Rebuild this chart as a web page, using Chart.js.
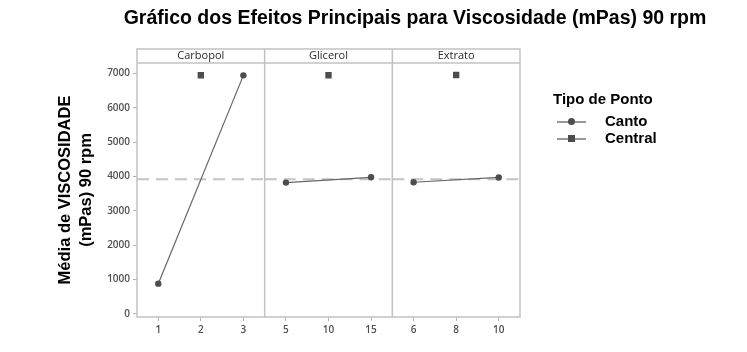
<!DOCTYPE html>
<html>
<head>
<meta charset="utf-8">
<script src="https://cdn.jsdelivr.net/npm/chart.js@4.4.1/dist/chart.umd.min.js"></script>
<style>
  body { margin: 0; background: #fff; }
  #wrap { position: relative; width: 747px; height: 352px; }
  #grafico { position: absolute; left: 0; top: 0; }
  .titulo {
    position: absolute; left: 415px; top: 7px; transform: translateX(-50%);
    white-space: nowrap; font: bold 19.5px "Liberation Sans", Arial, sans-serif; line-height: 20px; color: #000;
  }
  .leg { position: absolute; font: bold 15px "Liberation Sans", Arial, sans-serif; color: #000; white-space: nowrap; line-height: 18px; }
  .linha { position: absolute; width: 29px; height: 0; border-top: 2px solid #9a9a9a; }
  .marca { position: absolute; background: #4d4d4d; }
</style>
</head>
<body>
<div id="wrap">
  <canvas id="grafico" width="747" height="352"></canvas>
  <div class="titulo">Gráfico dos Efeitos Principais para Viscosidade (mPas) 90 rpm</div>
  <div class="leg" style="left:553px; top:90px;">Tipo de Ponto</div>
  <div class="linha" style="left:557px; top:121px;"></div>
  <div class="marca" style="left:568px; top:118px; width:7px; height:7px; border-radius:50%;"></div>
  <div class="leg" style="left:605px; top:112px;">Canto</div>
  <div class="linha" style="left:557px; top:138px;"></div>
  <div class="marca" style="left:568px; top:135px; width:7px; height:7px;"></div>
  <div class="leg" style="left:605px; top:129px;">Central</div>
</div>
<script>
// fatores e níveis
const paineis = ['Carbopol', 'Glicerol', 'Extrato'];
const xTicks = [[1, 2, 3], [5, 10, 15], [6, 8, 10]];
const xMin = [0.5, 2.5, 5];
const xMax = [3.5, 17.5, 11];

// médias dos pontos de canto
const cantoX = [[1, 3], [5, 15], [6, 10]];
const cantoY = [[880, 6940], [3820, 3975], [3830, 3970]];

// ponto central
const centralX = [2, 10, 8];
const centralY = [6945, 6945, 6950];

const mediaGeral = 3915;
const yTicks = [0, 1000, 2000, 3000, 4000, 5000, 6000, 7000];

const fonteTick = { family: 'Open Sans', size: 10, weight: '600' };

const datasets = [];
const scales = {};

paineis.forEach((nome, i) => {
    const id = 'x' + i;
    datasets.push({
        label: 'Canto',
        xAxisID: id,
        data: cantoX[i].map((x, j) => ({ x: x, y: cantoY[i][j] })),
        borderColor: '#666',
        borderWidth: 1.2,
        pointRadius: 3.2,
        pointBackgroundColor: '#4d4d4d',
        pointBorderWidth: 0,
        order: 0
    });
    datasets.push({
        label: 'Central',
        xAxisID: id,
        data: [{ x: centralX[i], y: centralY[i] }],
        showLine: false,
        pointStyle: 'rect',
        pointRadius: 4.5,
        pointBackgroundColor: '#4d4d4d',
        pointBorderWidth: 0,
        order: 0
    });
    datasets.push({
        label: 'Média',
        xAxisID: id,
        data: [{ x: xMin[i], y: mediaGeral }, { x: xMax[i], y: mediaGeral }],
        borderColor: '#c4c4c4',
        borderWidth: 2,
        borderDash: [12, 7],
        pointRadius: 0,
        order: 2
    });
    scales[id] = {
        type: 'linear',
        position: 'bottom',
        stack: 'paineis',
        stackWeight: 1,
        min: xMin[i],
        max: xMax[i],
        afterBuildTicks: s => { s.ticks = xTicks[i].map(v => ({ value: v })) },
        afterFit: s => { s.height = 20 },
        grid: { drawOnChartArea: false, tickLength: 4, color: '#b5b5b5' },
        border: { display: false },
        ticks: { font: fonteTick, color: '#505050', padding: 3, maxRotation: 0, callback: v => String(v) }
    };
});

scales.y = {
    type: 'linear',
    position: 'left',
    min: -90,
    max: 7300,
    afterBuildTicks: s => { s.ticks = yTicks.map(v => ({ value: v })) },
    afterFit: s => { s.width = 137 },
    grid: { drawOnChartArea: false, tickLength: 4, color: '#b5b5b5' },
    border: { display: false },
    ticks: { font: fonteTick, color: '#505050', padding: 3, callback: v => String(v) },
    title: {
        display: true,
        text: ['Média de VISCOSIDADE', '(mPas) 90 rpm'],
        color: '#000',
        font: { family: 'Liberation Sans', size: 16.5, weight: 'bold', lineHeight: 1.33 },
        padding: { top: 54, bottom: 0 }
    }
};

// molduras dos painéis e faixas com nomes dos fatores
const molduras = {
    id: 'molduras',
    afterDraw(chart) {
        const ctx = chart.ctx;
        const ca = chart.chartArea;
        const topo = ca.top - 14;
        ctx.save();
        ctx.strokeStyle = '#c2c2c2';
        ctx.lineWidth = 1.5;
        ctx.strokeRect(ca.left, topo, ca.right - ca.left, ca.bottom - topo);
        ctx.beginPath();
        ctx.moveTo(ca.left, ca.top);
        ctx.lineTo(ca.right, ca.top);
        paineis.forEach((nome, i) => {
            if (i < paineis.length - 1) {
                const xr = chart.scales['x' + i].right;
                ctx.moveTo(xr, topo);
                ctx.lineTo(xr, ca.bottom);
            }
        });
        ctx.stroke();
        ctx.fillStyle = '#2a2a2a';
        ctx.font = '11px "Open Sans"';
        ctx.textAlign = 'center';
        ctx.textBaseline = 'middle';
        paineis.forEach((nome, i) => {
            const s = chart.scales['x' + i];
            ctx.fillText(nome, (s.left + s.right) / 2, ca.top - 7);
        });
        ctx.restore();
    }
};

new Chart('grafico', {
    type: 'line',
    data: { datasets },
    options: {
        responsive: false,
        animation: false,
        layout: { padding: { top: 63, right: 227, bottom: 15, left: 0 } },
        plugins: { legend: { display: false }, tooltip: { enabled: false } },
        scales
    },
    plugins: [molduras]
});
</script>
</body>
</html>
